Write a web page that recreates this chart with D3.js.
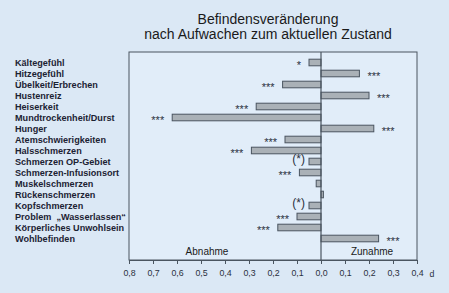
<!DOCTYPE html>
<html>
<head>
<meta charset="utf-8">
<script src="https://d3js.org/d3.v7.min.js"></script>
<style>
  html, body { margin: 0; padding: 0; background: #dbe8f5; }
  svg { display: block; font-family: Arial, "Liberation Sans", sans-serif; }
</style>
</head>
<body>
<div id="chart"></div>
<script>
// Kategorien (von oben nach unten)
const categories = [
    'Kältegefühl', 'Hitzegefühl', 'Übelkeit/Erbrechen', 'Hustenreiz', 'Heiserkeit',
    'Mundtrockenheit/Durst', 'Hunger', 'Atemschwierigkeiten', 'Halsschmerzen',
    'Schmerzen OP-Gebiet', 'Schmerzen-Infusionsort', 'Muskelschmerzen',
    'Rückenschmerzen', 'Kopfschmerzen', 'Problem  \u201EWasserlassen\u201C',
    'Körperliches Unwohlsein', 'Wohlbefinden'
];
// Effektstärke d (negativ = Abnahme)
const values = [
    -0.05, 0.16, -0.16, 0.20, -0.27,
    -0.62, 0.22, -0.15, -0.29,
    -0.05, -0.09, -0.02,
    0.01, -0.05, -0.10,
    -0.18, 0.24
];
// Signifikanz
const signif = [
    '*', '***', '***', '***', '***',
    '***', '***', '***', '***',
    '(*)', '***', '',
    '', '(*)', '***',
    '***', '***'
];
const tickValues = [-0.8, -0.7, -0.6, -0.5, -0.4, -0.3, -0.2, -0.1, 0, 0.1, 0.2, 0.3, 0.4];
const titleLines = ['Befindensveränderung', 'nach Aufwachen zum aktuellen Zustand'];

const W = 449, H = 293;
const plot = { left: 129, right: 417, top: 52, bottom: 260 };

const svg = d3.select('#chart').append('svg')
    .attr('width', W).attr('height', H);

svg.append('rect').attr('width', W).attr('height', H).attr('fill', '#dbe8f5');

const x = d3.scaleLinear().domain([-0.8, 0.4]).range([plot.left, plot.right]);
const y = d3.scaleBand().domain(categories)
    .range([plot.top + 5, plot.top + 5 + 11 * categories.length])
    .paddingInner(0.4).paddingOuter(0.2);

// ── Plotfläche ───────────────────────────────────────
svg.append('rect')
    .attr('x', plot.left).attr('y', plot.top)
    .attr('width', plot.right - plot.left).attr('height', plot.bottom - plot.top)
    .attr('fill', '#e1edf9')
    .attr('stroke', '#4a5560').attr('stroke-width', 1);

// ── Titel ────────────────────────────────────────────
svg.append('g').selectAll('text')
    .data(titleLines)
    .join('text')
    .attr('x', 268).attr('y', (d, i) => 24 + i * 15)
    .attr('text-anchor', 'middle')
    .style('font-size', '14px')
    .attr('fill', '#1a1a1a')
    .text(d => d);

// ── Kategorienbeschriftung ───────────────────────────
svg.append('g').selectAll('text')
    .data(categories)
    .join('text')
    .attr('x', 15)
    .attr('y', d => y(d) + y.bandwidth() / 2)
    .attr('dy', '0.35em')
    .style('font-size', '9.1px')
    .style('font-weight', 'bold')
    .attr('fill', '#1c2233')
    .style('white-space', 'pre')
    .text(d => d);

// ── Balken ───────────────────────────────────────────
const rows = categories.map((c, i) => ({ cat: c, v: values[i], s: signif[i] }));

svg.append('g').selectAll('rect')
    .data(rows)
    .join('rect')
    .attr('x', d => x(Math.min(0, d.v)))
    .attr('y', d => y(d.cat))
    .attr('width', d => Math.abs(x(d.v) - x(0)))
    .attr('height', y.bandwidth())
    .attr('fill', '#aab1b7')
    .attr('stroke', '#4a5560')
    .attr('stroke-width', 1);

// Nulllinie
svg.append('line')
    .attr('x1', x(0)).attr('x2', x(0))
    .attr('y1', plot.top).attr('y2', plot.bottom)
    .attr('stroke', '#4a5560').attr('stroke-width', 1.2);

// ── Signifikanzsterne ────────────────────────────────
svg.append('g').selectAll('text')
    .data(rows.filter(d => d.s))
    .join('text')
    .attr('x', d => d.v < 0 ? x(d.v) - (d.s === '(*)' ? 4 : 8) : x(d.v) + 8)
    .attr('y', d => y(d.cat) + y.bandwidth() / 2)
    .attr('dy', d => d.s === '(*)' ? '0.1em' : '0.55em')
    .attr('text-anchor', d => d.v < 0 ? 'end' : 'start')
    .style('font-size', d => d.s === '(*)' ? '12px' : '11px')
    .attr('fill', '#2a3040')
    .text(d => d.s);

// ── Achse ────────────────────────────────────────────
const fmt = v => Math.abs(v).toFixed(1).replace('.', ',');
const axis = d3.axisBottom(x).tickValues(tickValues).tickSize(4).tickFormat(fmt);
const ax = svg.append('g')
    .attr('transform', `translate(0,${plot.bottom})`)
    .call(axis);
ax.select('.domain').attr('stroke', '#4a5560');
ax.selectAll('.tick line').attr('stroke', '#4a5560');
ax.selectAll('.tick text')
    .attr('y', 10)
    .style('font-size', '8.8px')
    .style('font-family', 'Arial, "Liberation Sans", sans-serif')
    .attr('fill', '#2a3040');

svg.append('text')
    .attr('x', 432).attr('y', 277)
    .attr('text-anchor', 'middle')
    .style('font-size', '8.8px')
    .attr('fill', '#2a3040')
    .text('d');

// Abnahme / Zunahme
svg.append('text')
    .attr('x', 207).attr('y', 255)
    .attr('text-anchor', 'middle')
    .style('font-size', '10px')
    .attr('fill', '#1a1a1a')
    .text('Abnahme');
svg.append('text')
    .attr('x', 372).attr('y', 255)
    .attr('text-anchor', 'middle')
    .style('font-size', '10px')
    .attr('fill', '#1a1a1a')
    .text('Zunahme');
</script>
</body>
</html>
